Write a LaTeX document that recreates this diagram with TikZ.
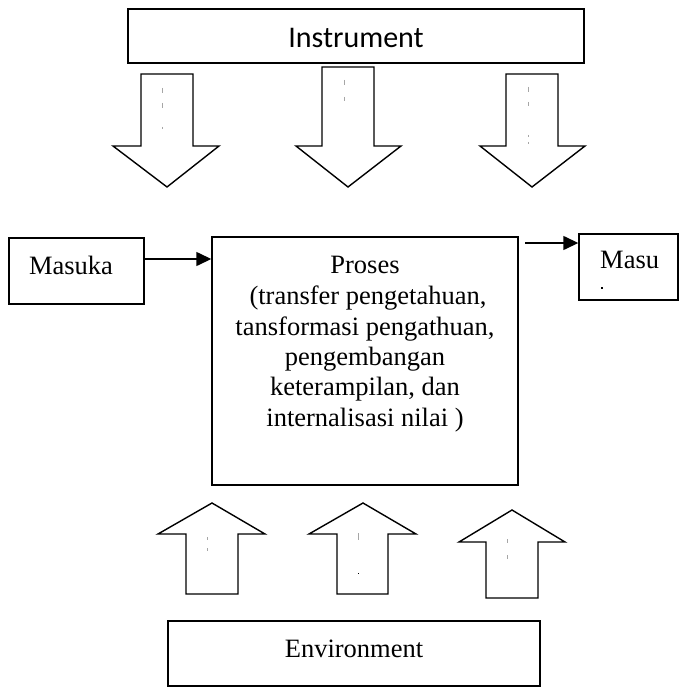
\documentclass[tikz,border=0pt]{standalone}
\usepackage{fontspec}
\setmainfont{Liberation Serif}
\newfontfamily\calib{Carlito}
\usetikzlibrary{arrows.meta}
\begin{document}
\begin{tikzpicture}[x=1pt,y=-1pt,
  box/.style={draw=black,line width=1.4pt,inner sep=0pt,fill=white},
  blockarrow/.style={draw=black,line width=1.4pt,line join=miter,fill=white},
  tick/.style={draw=gray!70,line width=0.8pt},
  conn/.style={line width=1.4pt,-{Triangle[length=15pt,width=14pt]}},
  lbl/.style={inner sep=0pt,anchor=base,font=\fontsize{26.5}{30}\selectfont}]
\useasboundingbox (0,0) rectangle (679,687);

% Instrument box
\node[box,minimum width=456pt,minimum height=54pt] (instr) at (356,36) {};
\node[inner sep=0pt,anchor=base,font=\calib\fontsize{30}{34}\selectfont] (instrtxt) at (356,48) {Instrument};

% down block arrows
\draw[blockarrow] (141,74) -- (193,74) -- (193,146) -- (219,146) -- (167,187) -- (113,146) -- (141,146) -- cycle;
\draw[blockarrow] (322,67) -- (374,67) -- (374,146) -- (401,146) -- (348,187) -- (296,146) -- (322,146) -- cycle;
\draw[blockarrow] (506,74) -- (558,74) -- (558,146) -- (585,146) -- (532,187) -- (480,146) -- (506,146) -- cycle;
% faint marks inside the down arrows
\draw[tick] (162,88) -- (162,93) (162,103) -- (162,108) (162,127) -- (162,129);
\draw[tick] (344,80) -- (344,85) (344,97) -- (344,101);
\draw[tick] (528,87) -- (528,92) (528,102) -- (528,106) (528,135) -- (528,137) (528,142) -- (528,144);

% Masuka
\node[box,minimum width=135pt,minimum height=66pt] (masuka) at (76.5,271) {};
\node[lbl] (masukatxt) at (71,274) {Masuka};

% Proses
\node[box,minimum width=306pt,minimum height=248pt] (proses) at (365,361) {};
\node[lbl] (p1) at (365,273) {Proses};
\node[lbl] (p2) at (368,304) {(transfer pengetahuan,};
\node[lbl] (p3) at (365,335) {tansformasi pengathuan,};
\node[lbl] (p4) at (365,365) {pengembangan};
\node[lbl] (p5) at (365,395) {keterampilan, dan};
\node[lbl] (p6) at (365,426) {internalisasi nilai )};

% Masu (clipped output box)
\node[box,minimum width=99pt,minimum height=66pt] (masu) at (628.5,267) {};
\node[inner sep=0pt,anchor=base west,font=\fontsize{26.5}{30}\selectfont] (masutxt) at (600,268) {Masu};
\fill (601,287) rectangle (603,289);

% connectors
\draw[conn] (masuka.east |- 0,259) -- (proses.west |- 0,259);
\coordinate (outstart) at (525,243);
\draw[conn] (outstart) -- (masu.west |- outstart);

% up block arrows
\draw[blockarrow] (212,503) -- (265,534) -- (238,534) -- (238,594) -- (186,594) -- (186,534) -- (158,534) -- cycle;
\draw[blockarrow] (363,503) -- (416,534) -- (388,534) -- (388,594) -- (337,594) -- (337,534) -- (309,534) -- cycle;
\draw[blockarrow] (512,510) -- (565,542) -- (538,542) -- (538,598) -- (486,598) -- (486,542) -- (459,542) -- cycle;
\draw[tick] (207,537) -- (207,540) (207,548) -- (207,551);
\draw[tick] (358,533) -- (358,540);
\fill (357.5,572.5) rectangle (358.7,573.7);
\draw[tick] (507,539) -- (507,543) (507,555) -- (507,559);

% Environment
\node[box,minimum width=372pt,minimum height=65pt] (env) at (354,653.5) {};
\node[lbl] (envtxt) at (354,657) {Environment};
\end{tikzpicture}
\end{document}
